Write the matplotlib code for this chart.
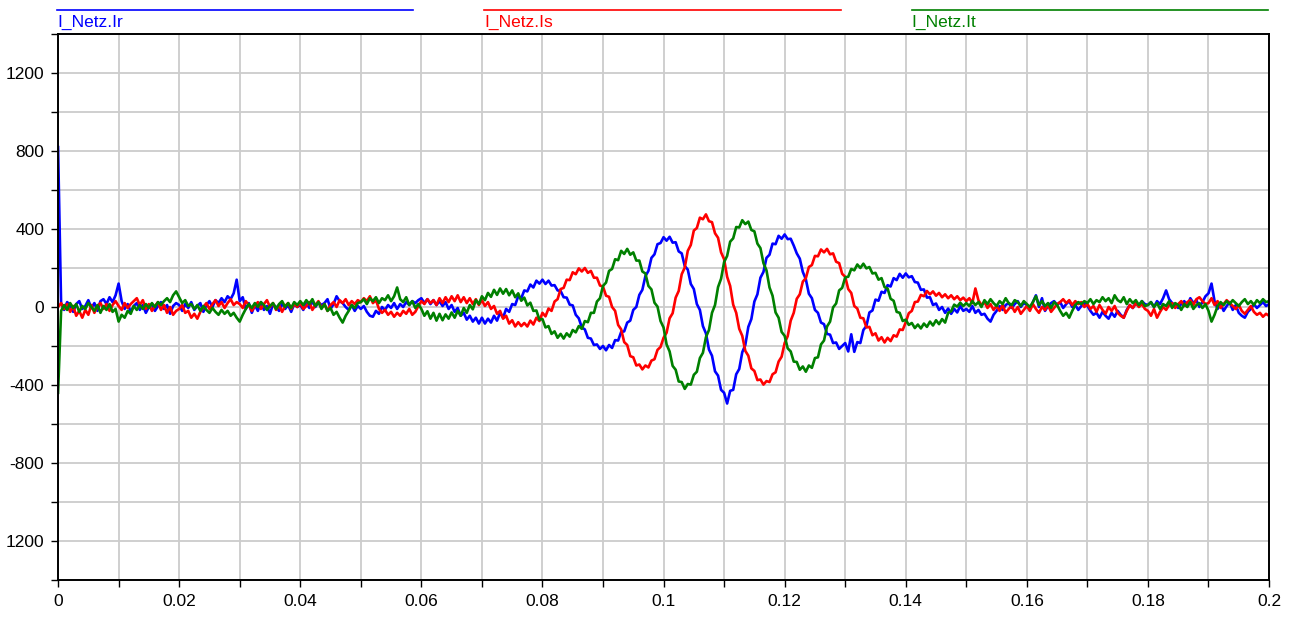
import numpy as np
import matplotlib.pyplot as plt
from matplotlib.ticker import MultipleLocator, FixedLocator, FixedFormatter, FuncFormatter
from matplotlib.lines import Line2D

plt.rcParams['font.family'] = ['Liberation Sans', 'DejaVu Sans']

i_r = [
    820, 20, -15, 25, 10, -25, 15, 30, -10, 5, 35, -5, 20, -20, 30, 40, 15, 50, 25, 60,
    120, 30, -10, 15, -25, 5, 20, -15, 10, -30, 0, 15, -20, 5, 25, -10, 10, -35, 5, 20,
    10, -20, 15, -5, 25, -15, 5, 20, -25, 10, 30, 0, 35, 20, 45, 25, 55, 40, 70, 140,
    30, 50, -10, 20, -30, 10, -20, 25, -15, 5, -35, 15, 0, -20, 20, -10, 10, -25, 15, 0,
    10, -15, 20, -5, 30, 0, 25, 10, 20, 40, -10, 15, 55, 30, 20, 0, -15, 10, -20, 5,
    -10, 5, -25, -45, -50, -20, -35, 0, -15, 10, -5, 20, -10, 15, 0, 25, 10, 30, 20, 35,
    45, 20, 40, 15, 35, 10, 30, 5, 25, -10, 10, -25, -5, -45, -30, -65, -45, -75, -55, -85,
    -55, -85, -60, -80, -45, -70, -30, -55, -10, -25, 15, 10, 55, 45, 85, 80, 115, 100, 135, 120,
    140, 118, 135, 110, 112, 85, 82, 50, 48, 12, 8, -40, -58, -105, -115, -158, -162, -195, -192, -215,
    -200, -222, -195, -210, -170, -172, -128, -125, -80, -70, -15, 0, 62, 88, 158, 185, 252, 270, 322, 328,
    358, 340, 360, 330, 332, 285, 275, 210, 192, 118, 92, 15, -15, -98, -135, -218, -250, -330, -352, -425,
    -440, -495, -430, -425, -345, -318, -232, -195, -102, -62, 28, 65, 150, 180, 252, 268, 325, 322, 365, 350,
    372, 348, 350, 315, 275, 248, 180, 142, 68, 45, -15, -30, -80, -88, -138, -142, -185, -182, -215, -200,
    -185, -228, -140, -230, -180, -185, -118, -98, -28, -18, 38, 32, 78, 72, 112, 105, 148, 138, 170, 150,
    172, 152, 158, 128, 125, 88, 90, 48, 50, 10, 18, -15, 0, -30, -8, -35, -10, -28, 5, -20,
    -10, -25, 5, -30, -15, -40, -35, -60, -75, -40, -20, 5, -15, 10, 20, -5, 15, 30, 0, 20,
    10, -10, 25, 60, 0, 45, -20, 5, 20, 30, 10, 25, -5, 15, 30, 0, 10, -15, 5, 20,
    5, -20, -40, -30, -55, -25, -45, -60, -30, -50, -20, -40, -55, -15, 10, -5, 20, 5, 30, 15,
    10, 25, 0, 30, 15, 45, 85, 40, 20, 10, -5, 15, 30, 5, 45, 20, 35, 0, 25, 55,
    70, 120, 30, -10, 15, -20, 5, 25, -15, 10, -30, -45, -55, -25, -10, 15, -5, 10, 25, 5,
    15]

i_s = [
    0, 20, -10, 15, -25, 5, -45, -20, -55, -15, -40, 10, -30, 5, 20, -10, 15, -20, 10, 30,
    5, -15, 20, -5, 15, 30, 45, 10, 35, -10, 15, -20, 5, 25, -15, 10, -30, 0, -40, -20,
    -10, 10, -30, -20, -55, -35, -60, -25, 0, 20, -10, 15, 35, 5, 25, -5, 20, 40, 10, 25,
    15, -5, 30, 10, -20, 5, 25, -10, 15, 35, 0, 20, -15, 10, -25, 5, 20, -10, 15, 0,
    20, -10, 5, 25, -15, 10, 30, -5, 15, -20, 10, 25, 0, 35, 20, 40, 10, 30, 15, 35,
    25, 45, 30, 55, 20, 35, -10, -30, -15, -40, -25, -50, -30, -45, -20, -35, -10, -40, -25, 5,
    30, 15, 40, 20, 35, 10, 45, 20, 50, 25, 55, 30, 60, 25, 50, 20, 45, 15, 40, 10,
    35, 5, 25, -10, 5, -35, -20, -60, -45, -85, -68, -100, -78, -98, -82, -100, -70, -90, -55, -72,
    -30, -48, -8, -20, 28, 40, 92, 98, 140, 138, 178, 168, 198, 182, 200, 175, 185, 150, 150, 110,
    105, 58, 52, 0, -20, -92, -115, -180, -195, -252, -258, -300, -295, -320, -300, -310, -275, -268, -220, -205,
    -158, -132, -58, -32, 48, 82, 168, 202, 288, 318, 392, 405, 458, 450, 475, 440, 435, 378, 355, 280,
    245, 155, 108, 12, -30, -112, -148, -225, -250, -315, -328, -375, -372, -398, -380, -385, -345, -335, -280, -255,
    -185, -150, -70, -30, 42, 65, 130, 148, 205, 215, 262, 260, 295, 280, 298, 270, 275, 232, 225, 170,
    155, 92, 72, 5, -8, -55, -58, -105, -102, -145, -135, -172, -155, -182, -158, -175, -145, -152, -115, -118,
    -78, -32, -20, 25, 28, 62, 55, 82, 65, 80, 58, 72, 50, 65, 45, 60, 40, 55, 35, 48,
    30, 45, 20, 95, 35, 10, 25, -5, 15, -15, 5, -20, 10, -30, -10, 5, -25, 0, -35, -15,
    5, -20, 15, -10, -30, 0, -15, 10, -25, -5, 15, 25, 40, 20, 35, 10, 30, 15, 25, 0,
    15, -10, 5, -25, 10, -15, -35, 0, -20, 5, -30, -45, -55, -20, 10, -5, 20, 0, 15, -10,
    -20, -45, -10, -55, -25, 0, -15, 10, 20, -5, 15, 30, 5, 25, 35, 10, 40, 50, 30, 15,
    20, 45, 10, 30, -5, 15, 35, 20, 5, -10, 10, -20, -35, -15, 5, -25, -40, -30, -50, -35,
    -45]

i_t = [
    -440, -20, 10, -15, 20, -5, 15, -25, 5, -10, 20, 0, -20, 10, -30, 5, -15, 15, -25, -10,
    -75, -40, -55, -20, -35, 5, -15, 10, -10, 15, -5, 20, 0, 25, 10, 30, 45, 25, 60, 80,
    50, 20, 35, 5, 15, -10, 10, -20, 5, -15, -30, -5, -25, -40, -15, -35, -20, -45, -30, -55,
    -75, -40, -10, 15, -5, 20, 0, 25, 10, -15, 5, 20, -10, 15, 30, 0, 20, -5, 25, 10,
    30, 10, 35, 15, 40, 5, 25, -10, 15, -20, -5, -40, -25, -55, -80, -45, -20, 10, -5, 20,
    25, 40, 15, 45, 30, 50, 20, 45, 35, 60, 30, 55, 100, 40, 25, 50, 10, 30, -5, 15,
    -10, -45, -22, -60, -30, -70, -35, -68, -38, -60, -28, -55, -20, -45, -5, -30, 10, -12, 35, 15,
    55, 35, 72, 52, 88, 62, 95, 68, 92, 60, 85, 50, 70, 32, 48, 8, 22, -20, -18, -65,
    -62, -105, -98, -138, -125, -158, -138, -162, -135, -152, -118, -130, -98, -112, -72, -78, -30, -30, 28, 45,
    108, 125, 185, 195, 245, 240, 288, 272, 298, 268, 280, 238, 238, 182, 172, 108, 90, 22, 2, -72,
    -105, -192, -228, -302, -322, -382, -385, -420, -395, -398, -348, -332, -262, -235, -155, -118, -30, 10, 102, 145,
    230, 262, 335, 352, 410, 408, 445, 425, 438, 395, 388, 325, 302, 225, 188, 100, 58, -28, -55, -128,
    -148, -212, -228, -280, -282, -322, -305, -332, -300, -312, -262, -258, -192, -172, -100, -75, -2, 18, 85, 98,
    152, 155, 195, 188, 218, 200, 222, 198, 205, 172, 175, 140, 148, 102, 95, 42, 32, -25, -30, -72,
    -65, -92, -82, -108, -90, -110, -85, -102, -75, -95, -68, -88, -62, -80, -30, -22, 12, 2, 22, 5,
    20, 5, 30, 10, 25, 0, 35, 15, 40, 20, 5, 30, 15, 45, 20, 10, 35, 25, 5, 30,
    15, 0, 25, 55, 10, 30, 5, 20, -5, 25, 10, -20, -45, -30, -55, -20, 10, 25, 15, 30,
    20, 40, 15, 35, 25, 50, 30, 45, 20, 60, 35, 25, 50, 15, 40, 20, 35, 10, 30, 5,
    10, 25, 0, 20, -10, 15, 5, 30, -5, 20, 10, -15, 15, 0, 25, -10, 10, 20, -5, 15,
    -20, -75, -40, 5, 25, 10, 30, 15, 35, 20, 5, 25, 40, 15, 30, 10, 35, 20, 40, 25,
    30]

names = ['I_Netz.Ir', 'I_Netz.Is', 'I_Netz.It']
colors = ['#0000ff', '#ff0000', '#008000']
y_ticks = [1200, 800, 400, 0, -400, -800, -1200]
y_labels = ['1200', '800', '400', '0', '-400', '-800', '1200']

fig = plt.figure(figsize=(12.96, 6.17), dpi=100)
ax = fig.add_axes([0.0448, 0.060, 0.9344, 0.8849])

for series, c in zip([i_r, i_s, i_t], colors):
    t = np.linspace(0, 0.2, len(series))
    ax.plot(t, series, color=c, lw=1.9)

ax.set_xlim(0, 0.2)
ax.set_ylim(-1400, 1400)
ax.xaxis.set_major_locator(MultipleLocator(0.02))
ax.xaxis.set_minor_locator(MultipleLocator(0.01))
ax.xaxis.set_major_formatter(FuncFormatter(lambda v, p: f"{v:g}"))
ax.yaxis.set_major_locator(FixedLocator(y_ticks))
ax.yaxis.set_major_formatter(FixedFormatter(y_labels))
ax.yaxis.set_minor_locator(MultipleLocator(200))
ax.grid(True, which='both', color='#cccccc', lw=1.3)
ax.set_axisbelow(True)
ax.tick_params(which='both', direction='out', length=5, width=1, labelsize=12.5, pad=5)
for s in ax.spines.values():
    s.set_linewidth(1.4)

# legend strip above the axes: a line with the label under it
for k, (name, c) in enumerate(zip(names, colors)):
    x0 = 0.044 + k * 0.3298
    fig.add_artist(Line2D([x0, x0 + 0.2748], [0.9838, 0.9838], color=c, lw=1.2,
                          transform=fig.transFigure))
    fig.text(x0, 0.957, name, color=c, fontsize=12.5, va='baseline', ha='left')

fig.savefig('out.png', dpi=100)
